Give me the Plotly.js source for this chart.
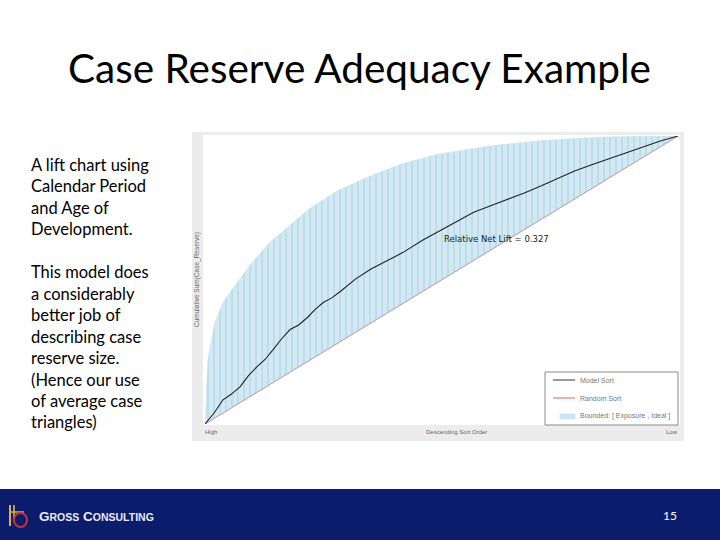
<!DOCTYPE html>
<html>
<head>
<meta charset="utf-8">
<script src="https://cdn.plot.ly/plotly-3.0.1.min.js"></script>
<style>
html,body{margin:0;padding:0;background:#fff;}
#chart{width:720px;height:540px;}
</style>
</head>
<body>
<div id="chart"></div>
<script>
// ---- data ----
const randomX = [0, 1];
const randomY = [0, 1];

const idealX = [0, 0.0064, 0.021, 0.038, 0.057, 0.068, 0.10, 0.138, 0.219, 0.28, 0.35, 0.42, 0.491, 0.604, 0.71, 0.816, 0.9, 1.0];
const idealY = [0, 0.233, 0.352, 0.422, 0.467, 0.492, 0.562, 0.632, 0.746, 0.81, 0.862, 0.905, 0.937, 0.966, 0.984, 0.995, 0.999, 1.0];

const modelX = [0, 0.020, 0.038, 0.056, 0.074, 0.092, 0.110, 0.127, 0.144, 0.162, 0.180, 0.198, 0.216, 0.233, 0.250, 0.268, 0.286, 0.318, 0.350, 0.385, 0.419, 0.458, 0.498, 0.533, 0.568, 0.604, 0.640, 0.675, 0.710, 0.745, 0.780, 0.816, 0.852, 0.887, 0.922, 0.961, 1.0];
const modelY = [0, 0.040, 0.084, 0.104, 0.129, 0.168, 0.199, 0.224, 0.258, 0.296, 0.328, 0.344, 0.369, 0.398, 0.422, 0.438, 0.460, 0.503, 0.537, 0.566, 0.596, 0.636, 0.672, 0.705, 0.735, 0.758, 0.780, 0.802, 0.826, 0.853, 0.878, 0.899, 0.920, 0.941, 0.962, 0.982, 1.0];

const slideTitle = "Case Reserve Adequacy Example";
const sideText = ["A lift chart using", "Calendar Period", "and Age of", "Development.", "", "This model does", "a considerably", "better job of", "describing case", "reserve size.", "(Hence our use", "of average case", "triangles)"];
const liftLabel = "Relative Net Lift = 0.327";
const yLabel = "Cumulative Sum(Case_Reserve)";
const xLabels = ["High", "Descending Sort Order", "Low"];
const legendNames = ["Model Sort", "Random Sort", "Bounded: [ Exposure , Ideal ]"];
const company = "G<span style='font-size:10.5px'>ROSS</span> C<span style='font-size:10.5px'>ONSULTING</span>";
const pageNum = "15";

// ---- helpers (pixel -> paper) ----
const W = 720, H = 540;
const px = x => x / W;
const py = y => 1 - y / H;

const traces = [
  {x: randomX, y: randomY, mode: 'lines', line: {color: '#c9b3ba', width: 1}, hoverinfo: 'skip', showlegend: false},
  {x: idealX, y: idealY, mode: 'lines', line: {color: '#c8e3ee', width: 0.5},
   fill: 'tonexty', fillcolor: '#d2e9f3',
   fillpattern: {shape: '|', bgcolor: '#d2e9f3', fgcolor: '#b3d8e7', size: 6, solidity: 0.22},
   hoverinfo: 'skip', showlegend: false},
  {x: randomX, y: randomY, mode: 'lines', line: {color: '#bfaab2', width: 1}, hoverinfo: 'skip', showlegend: false},
  {x: modelX, y: modelY, mode: 'lines', line: {color: '#222', width: 1.1}, hoverinfo: 'skip', showlegend: false, cliponaxis: false}
];

const shapes = [
  {type: 'rect', xref: 'paper', yref: 'paper', x0: px(192), x1: px(684), y0: py(441), y1: py(132), fillcolor: '#ececec', line: {width: 0}, layer: 'below'},
  {type: 'rect', xref: 'paper', yref: 'paper', x0: px(203), x1: px(680), y0: py(425), y1: py(135), fillcolor: '#ffffff', line: {width: 0}, layer: 'below'},
  {type: 'rect', xref: 'paper', yref: 'paper', x0: px(545), x1: px(678), y0: py(425), y1: py(372), fillcolor: '#ffffff', line: {color: '#8a8a8a', width: 1}},
  {type: 'line', xref: 'paper', yref: 'paper', x0: px(553), x1: px(575), y0: py(380), y1: py(380), line: {color: '#333', width: 1}},
  {type: 'line', xref: 'paper', yref: 'paper', x0: px(553), x1: px(575), y0: py(398), y1: py(398), line: {color: '#e06060', width: 1}},
  {type: 'rect', xref: 'paper', yref: 'paper', x0: px(560), x1: px(575), y0: py(419), y1: py(414), fillcolor: '#cfe6f0', line: {color: '#b4d7e5', width: 0.5}},
  {type: 'rect', xref: 'paper', yref: 'paper', x0: 0, x1: 1, y0: 0, y1: py(489), fillcolor: '#0b1c6c', line: {width: 0}},
  {type: 'line', xref: 'paper', yref: 'paper', x0: px(10), x1: px(10), y0: py(526), y1: py(505), line: {color: '#e3b03a', width: 2}},
  {type: 'line', xref: 'paper', yref: 'paper', x0: px(14), x1: px(14), y0: py(522), y1: py(505), line: {color: '#e8c060', width: 1.5}},
  {type: 'line', xref: 'paper', yref: 'paper', x0: px(9), x1: px(24), y0: py(512), y1: py(512), line: {color: '#e3b03a', width: 1.5}},
  {type: 'circle', xref: 'paper', yref: 'paper', x0: px(14), x1: px(27), y0: py(527), y1: py(513), fillcolor: 'rgba(0,0,0,0)', line: {color: '#c0303a', width: 2}}
];

const annotations = [
  {text: slideTitle, xref: 'paper', yref: 'paper', x: px(359), y: py(68), xanchor: 'center', yanchor: 'middle', showarrow: false,
   font: {family: 'Lato, "Open Sans", sans-serif', size: 40.5, color: '#000'}},
  {text: sideText.join('<br>'), xref: 'paper', yref: 'paper', x: px(29), y: py(153), xanchor: 'left', yanchor: 'top', align: 'left', showarrow: false,
   font: {family: 'Lato, "Open Sans", sans-serif', size: 16.5, color: '#000'}},
  {text: liftLabel, xref: 'paper', yref: 'paper', x: px(442), y: py(239), xanchor: 'left', yanchor: 'middle', showarrow: false,
   font: {family: '"DejaVu Sans", sans-serif', size: 8.5, color: '#222'}},
  {text: yLabel, xref: 'paper', yref: 'paper', x: px(197), y: py(280), xanchor: 'center', yanchor: 'middle', textangle: -90, showarrow: false,
   font: {family: '"Liberation Sans", sans-serif', size: 6.5, color: '#666'}},
  {text: xLabels[0], xref: 'paper', yref: 'paper', x: px(203), y: py(432), xanchor: 'left', yanchor: 'middle', showarrow: false,
   font: {family: '"Liberation Sans", sans-serif', size: 6, color: '#666'}},
  {text: xLabels[1], xref: 'paper', yref: 'paper', x: px(456), y: py(432), xanchor: 'center', yanchor: 'middle', showarrow: false,
   font: {family: '"Liberation Sans", sans-serif', size: 6, color: '#666'}},
  {text: xLabels[2], xref: 'paper', yref: 'paper', x: px(680), y: py(432), xanchor: 'right', yanchor: 'middle', showarrow: false,
   font: {family: '"Liberation Sans", sans-serif', size: 6, color: '#666'}},
  {text: legendNames[0], xref: 'paper', yref: 'paper', x: px(578), y: py(380), xanchor: 'left', yanchor: 'middle', showarrow: false,
   font: {family: '"Liberation Sans", sans-serif', size: 7, color: '#777'}},
  {text: legendNames[1], xref: 'paper', yref: 'paper', x: px(578), y: py(398), xanchor: 'left', yanchor: 'middle', showarrow: false,
   font: {family: '"Liberation Sans", sans-serif', size: 7, color: '#777'}},
  {text: legendNames[2], xref: 'paper', yref: 'paper', x: px(578), y: py(416), xanchor: 'left', yanchor: 'middle', showarrow: false,
   font: {family: '"Liberation Sans", sans-serif', size: 7, color: '#777'}},
  {text: '<b>' + company + '</b>', xref: 'paper', yref: 'paper', x: px(37), y: py(516), xanchor: 'left', yanchor: 'middle', showarrow: false,
   font: {family: '"Liberation Sans", Arial, sans-serif', size: 13.5, color: '#e8ecf5'}},
  {text: pageNum, xref: 'paper', yref: 'paper', x: px(670), y: py(515), xanchor: 'center', yanchor: 'middle', showarrow: false,
   font: {family: 'Lato, "Open Sans", sans-serif', size: 12, color: '#ffffff'}}
];

const layout = {
  width: W, height: H,
  margin: {l: 0, r: 0, t: 0, b: 0},
  paper_bgcolor: '#ffffff',
  plot_bgcolor: 'rgba(0,0,0,0)',
  showlegend: false,
  xaxis: {domain: [px(205), px(678)], range: [0, 1], showgrid: false, zeroline: false, showticklabels: false, ticks: '', showline: false, fixedrange: true},
  yaxis: {domain: [py(424), py(136)], range: [0, 1], showgrid: false, zeroline: false, showticklabels: false, ticks: '', showline: false, fixedrange: true},
  shapes: shapes,
  annotations: annotations
};

Plotly.newPlot('chart', traces, layout, {displayModeBar: false, staticPlot: true});
</script>
</body>
</html>
